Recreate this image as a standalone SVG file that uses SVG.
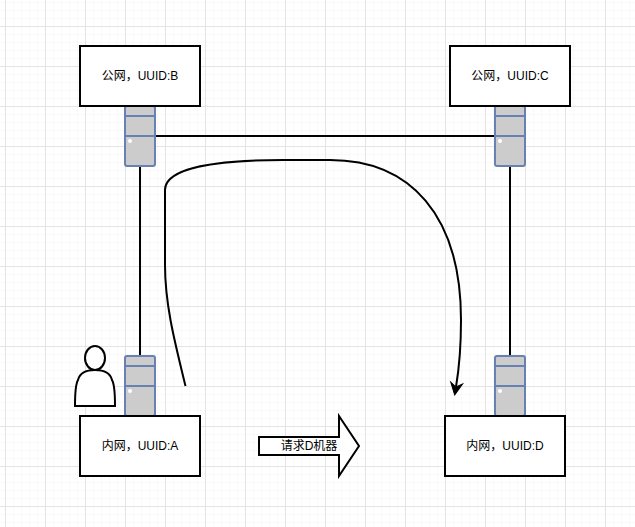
<svg xmlns="http://www.w3.org/2000/svg" width="635" height="527" viewBox="0 0 635 527">
<style>
.box{fill:#fff;stroke:#000;stroke-width:2}
.srv{fill:#ccc;stroke:#6881B3;stroke-width:2}
.dot{fill:#fff}
.wire{fill:none;stroke:#000;stroke-width:2}
text{font-family:"Liberation Sans","Noto Sans CJK SC",sans-serif;font-size:12px;fill:#000;text-anchor:middle;dominant-baseline:central}
</style>
<defs>
<pattern id="grid" x="5" y="26" width="40" height="40" patternUnits="userSpaceOnUse">
<path d="M8.5 0V40M16.5 0V40M24.5 0V40M32.5 0V40M0 8.5H40M0 16.5H40M0 24.5H40M0 32.5H40" stroke="#f9f9f9" fill="none"/>
<path d="M.5 0V40M0 .5H40" stroke="#e4e4e4" fill="none"/>
</pattern>
<marker id="arrow" markerUnits="userSpaceOnUse" markerWidth="16" markerHeight="16" viewBox="0 0 16 16" refX="6" refY="8" orient="auto">
<path d="M14 8L2 2L6 8L2 14Z" fill="#000" stroke="#000"/>
</marker>
<g id="server"><rect class="srv" x="125" y="0" width="30" height="60" rx="2"/><path d="M125 10H155M125 30H155" fill="none" stroke="#6881B3" stroke-width="2"/><circle class="dot" cx="130" cy="35" r="2"/></g>
</defs>
<rect width="635" height="527" fill="#fff"/>
<rect width="635" height="527" fill="url(#grid)"/>
<g id="connectors">
<path class="wire" d="M140 166V356"/>
<path class="wire" d="M510 166V356"/>
<path class="wire" d="M155 136H495"/>
<path class="wire" d="M185.5 386C175 343 165 305 165 265L165 190C165 168 215 160 283 160L330 160C410 160 461 215 461 320C461 350 458.5 372 456 387" marker-end="url(#arrow)"/>
</g>
<g id="server-b"><use href="#server" y="106"/></g>
<g id="server-c"><use href="#server" x="370" y="106"/></g>
<g id="server-a"><use href="#server" y="356"/></g>
<g id="server-d"><use href="#server" x="370" y="356"/></g>
<g id="node-b"><rect class="box" x="80" y="46" width="120" height="60"/><text x="140" y="76">公网，UUID:B</text></g>
<g id="node-c"><rect class="box" x="450" y="46" width="120" height="60"/><text x="510" y="76">公网，UUID:C</text></g>
<g id="node-a"><rect class="box" x="80" y="416" width="120" height="60"/><text x="140" y="446">内网，UUID:A</text></g>
<g id="node-d"><rect class="box" x="445" y="416" width="120" height="60"/><text x="505" y="446">内网，UUID:D</text></g>
<g id="user"><ellipse cx="95" cy="358" rx="10" ry="12" fill="#fff" stroke="#000" stroke-width="2"/><path d="M75 406C75 395 75 385 78 380C80 372 88 370 95 370C102 370 110 372 112 380C115 385 115 395 115 406Z" fill="#fff" stroke="#000" stroke-width="2"/></g>
<g id="request-arrow"><path d="M259 437H339V416L359 446L339 476V455H259Z" fill="#fff" stroke="#000" stroke-width="2"/><text x="309" y="446">请求D机器</text></g>
</svg>
